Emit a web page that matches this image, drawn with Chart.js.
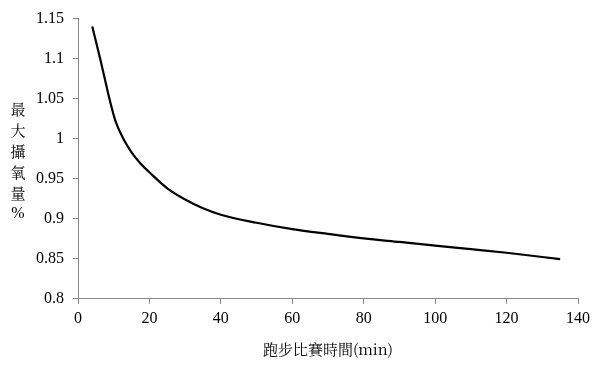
<!DOCTYPE html>
<html>
<head>
<meta charset="utf-8">
<script src="https://cdn.jsdelivr.net/npm/chart.js@4/dist/chart.umd.min.js"></script>
<style>
  body { margin: 0; background: #fff; }
  #wrap { width: 602px; height: 365px; }
</style>
</head>
<body>
<div id="wrap"><canvas id="myChart"></canvas></div>
<script>
const minutes = [4, 5, 6.2, 7.5, 8.8, 10.5, 12.7, 15, 17.5, 20, 25, 30, 35, 40, 50, 60, 70, 80, 90, 100, 110, 120, 135];
const vo2max = [1.14, 1.122, 1.10, 1.075, 1.05, 1.022, 1.00, 0.983, 0.969, 0.958, 0.938, 0.924, 0.913, 0.905, 0.895, 0.887, 0.881, 0.8755, 0.871, 0.8665, 0.862, 0.8575, 0.8495];
const xTicks = [0, 20, 40, 60, 80, 100, 120, 140];
const yTicks = [0.8, 0.85, 0.9, 0.95, 1, 1.05, 1.1, 1.15];
const yTitle = ['最', '大', '攝', '氧', '量', '%'];
const xTitle = '跑步比賽時間(min)';

const latinFont = '"Liberation Serif", serif';
const cjkFont = '"Noto Serif CJK TC", "Liberation Serif", serif';
const axisGray = '#868686';

const ctx = document.getElementById("myChart").getContext("2d");

// vertical stacked y title, one character per line
const stackedTitle = {
  id: 'stackedTitle',
  afterDraw(chart) {
    const c = chart.ctx;
    c.save();
    c.fillStyle = '#000';
    c.textAlign = 'center';
    c.textBaseline = 'middle';
    yTitle.forEach((ch, i) => {
      c.font = ch === '%' ? '16px ' + latinFont : '15px ' + cjkFont;
      c.fillText(ch, 18, 109 + i * 21);
    });
    c.restore();
  }
};

const data = {
  datasets: [{
    data: minutes.map((m, i) => ({ x: m, y: vo2max[i] })),
    borderColor: '#000',
    borderWidth: 2.2,
    pointRadius: 0,
    fill: false,
    cubicInterpolationMode: 'monotone',
  }]
};

const config = {
  type: 'line',
  data: data,
  plugins: [stackedTitle],
  options: {
    responsive: true,
    maintainAspectRatio: false,
    animation: false,
    layout: { padding: { top: 10, right: 24, left: 10, bottom: 7 } },
    plugins: { legend: { display: false }, tooltip: { enabled: false } },
    scales: {
      x: {
        type: 'linear',
        min: 0,
        max: 140,
        afterBuildTicks: (s) => { s.ticks = xTicks.map(v => ({ value: v })); },
        grid: { drawOnChartArea: false, tickLength: 5, color: axisGray },
        border: { color: axisGray, width: 1 },
        ticks: { color: '#000', font: { family: latinFont, size: 16 }, padding: 5, callback: (v) => String(v) },
        title: { display: true, text: xTitle, color: '#000', font: { family: cjkFont, size: 15 }, padding: { top: 7, bottom: 0 } },
      },
      y: {
        min: 0.8,
        max: 1.15,
        afterBuildTicks: (s) => { s.ticks = yTicks.map(v => ({ value: v })); },
        afterFit: (s) => { s.width = 68; },
        grid: { drawOnChartArea: false, tickLength: 5, color: axisGray },
        border: { color: axisGray, width: 1 },
        ticks: { color: '#000', font: { family: latinFont, size: 16 }, padding: 9, callback: (v) => String(v) },
      },
    },
  },
};

const myChart = new Chart(ctx, config);
</script>
</body>
</html>
